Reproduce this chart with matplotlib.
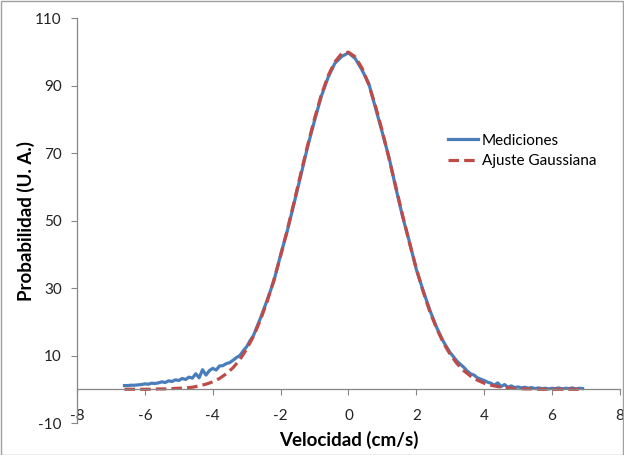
import matplotlib
matplotlib.use('Agg')
import matplotlib.pyplot as plt
from matplotlib.patches import Rectangle

plt.rcParams['font.family'] = ['Lato', 'DejaVu Sans']
plt.rcParams['axes.unicode_minus'] = False

# Mediciones (velocidad cm/s, probabilidad U.A.)
vel_med = [-6.6, -6.5, -6.4, -6.3, -6.2, -6.1, -6.0, -5.9, -5.8, -5.7,
           -5.6, -5.5, -5.4, -5.3, -5.2, -5.1, -5.0, -4.9, -4.8, -4.7,
           -4.6, -4.5, -4.4, -4.3, -4.2, -4.1, -4.0, -3.9, -3.8, -3.7,
           -3.6, -3.5, -3.4, -3.3, -3.2, -3.1, -3.0, -2.9, -2.8,
           -2.6, -2.4, -2.2, -2.0, -1.8, -1.6, -1.4, -1.2, -1.0, -0.8,
           -0.6, -0.4, -0.2, 0.0, 0.2, 0.4, 0.6, 0.8, 1.0, 1.2,
           1.4, 1.6, 1.8, 2.0, 2.2, 2.4, 2.6, 2.8, 3.0,
           3.1, 3.2, 3.3, 3.4, 3.5, 3.6, 3.7, 3.8, 3.9, 4.0,
           4.1, 4.2, 4.3, 4.4, 4.5, 4.6, 4.7, 4.8, 4.9, 5.0,
           5.1, 5.2, 5.3, 5.4, 5.5, 5.6, 5.7, 5.8, 5.9, 6.0,
           6.1, 6.2, 6.3, 6.4, 6.5, 6.6, 6.7, 6.8, 6.9]
prob_med = [1.1, 1.1, 1.2, 1.2, 1.3, 1.4, 1.6, 1.5, 1.8, 1.7,
            1.9, 2.2, 2.0, 2.5, 2.3, 2.8, 2.6, 3.2, 2.9, 3.6,
            3.3, 4.6, 3.4, 5.8, 4.2, 5.5, 6.2, 5.7, 6.9, 7.0,
            7.6, 7.9, 8.6, 9.4, 10.0, 11.4, 12.6, 14.4, 15.9,
            20.9, 26.3, 32.0, 39.8, 47.0, 55.2, 63.5, 72.0, 79.6, 86.8,
            92.4, 96.6, 98.6, 99.7, 98.0, 94.6, 90.6, 83.3, 76.0, 68.5,
            59.5, 51.0, 43.6, 35.5, 29.3, 23.4, 18.3, 14.1, 10.8,
            9.6, 8.3, 7.4, 6.5, 5.4, 4.6, 4.2, 3.4, 3.0, 2.6,
            2.1, 1.8, 1.2, 1.9, 0.8, 1.4, 0.6, 1.0, 0.5, 0.7,
            0.4, 0.6, 0.3, 0.5, 0.2, 0.4, 0.2, 0.3, 0.1, 0.3,
            0.2, 0.4, 0.1, 0.3, 0.2, 0.4, 0.1, 0.3, 0.2]

# Ajuste gaussiano
vel_fit = [-6.6, -6.4, -6.2, -6.0, -5.8, -5.6, -5.4, -5.2, -5.0, -4.8,
           -4.6, -4.4, -4.2, -4.0, -3.8, -3.6, -3.4, -3.2, -3.0, -2.8,
           -2.6, -2.4, -2.2, -2.0, -1.8, -1.6, -1.4, -1.2, -1.0, -0.8,
           -0.6, -0.4, -0.2, 0.0, 0.2, 0.4, 0.6, 0.8, 1.0, 1.2,
           1.4, 1.6, 1.8, 2.0, 2.2, 2.4, 2.6, 2.8, 3.0, 3.2,
           3.4, 3.6, 3.8, 4.0, 4.2, 4.4, 4.6, 4.8, 5.0, 5.2,
           5.4, 5.6, 5.8, 6.0, 6.2, 6.4, 6.6, 6.8]
prob_fit = [0.0, 0.0, 0.0, 0.0, 0.0, 0.1, 0.1, 0.2, 0.3, 0.4,
            0.6, 1.0, 1.5, 2.2, 3.2, 4.6, 6.4, 8.8, 11.9, 15.7,
            20.4, 25.9, 32.3, 39.5, 47.3, 55.6, 64.1, 72.4, 80.2, 87.2,
            92.9, 97.0, 99.5, 99.9, 98.5, 95.2, 90.2, 83.8, 76.4, 68.2,
            59.8, 51.4, 43.3, 35.8, 29.0, 23.0, 18.0, 13.7, 10.3, 7.6,
            5.5, 3.9, 2.7, 1.8, 1.2, 0.8, 0.5, 0.3, 0.2, 0.1,
            0.1, 0.0, 0.0, 0.0, 0.0, 0.0, 0.0, 0.0]

x_ticks = [-8, -6, -4, -2, 0, 2, 4, 6, 8]
y_ticks = [-10, 10, 30, 50, 70, 90, 110]

fig = plt.figure(figsize=(6.24, 4.55), dpi=100)
ax = fig.add_axes([0.1234, 0.0703, 0.870, 0.890])

ax.plot(vel_med, prob_med, color='#4A7EBB', linewidth=2.3, label='Mediciones')
ln, = ax.plot(vel_fit, prob_fit, color='#BE4B48', linewidth=2.3,
              linestyle='--', label='Ajuste Gaussiana')
ln.set_dashes([3.3, 1.6])

ax.set_xlim(-8, 8)
ax.set_ylim(-10, 110)
ax.set_xticks(x_ticks)
ax.set_yticks(y_ticks)

ax.spines['top'].set_visible(False)
ax.spines['right'].set_visible(False)
ax.spines['bottom'].set_position(('data', 0))
for s in ['left', 'bottom']:
    ax.spines[s].set_color('#868686')
    ax.spines[s].set_linewidth(0.9)
ax.tick_params(axis='both', direction='out', length=4, color='#868686',
               labelsize=11, labelcolor='#222222')
ax.tick_params(axis='x', pad=10)
ax.tick_params(axis='y', pad=7)

ax.set_xlabel('Velocidad (cm/s)', fontsize=13.5, fontweight='bold', va='center')
ax.set_ylabel('Probabilidad (U. A.)', fontsize=13.5, fontweight='bold', labelpad=0)
ax.xaxis.set_label_coords(0.5, -0.042)

leg = ax.legend(loc='upper left', bbox_to_anchor=(0.672, 0.73), frameon=False,
                fontsize=11, handlelength=2.0, handletextpad=0.2,
                labelspacing=0.45, borderaxespad=0)

fig.patches.append(Rectangle((0.001, 0.001), 0.997, 0.997, transform=fig.transFigure,
                             fill=False, edgecolor='#A0A0A0', linewidth=1))

plt.savefig('out.png', dpi=100)
plt.close()
